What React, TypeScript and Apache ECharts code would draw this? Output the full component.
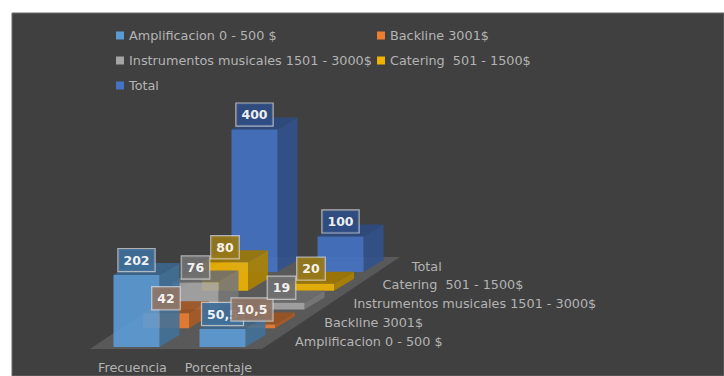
import React, { useEffect, useRef } from "react";
import * as echarts from "echarts";

const groupNames = ["Frecuencia", "Porcentaje"];
const budgetNames = [
  "Amplificacion 0 - 500 $",
  "Backline 3001$",
  "Instrumentos musicales 1501 - 3000$",
  "Catering  501 - 1500$",
  "Total",
];
const amplificacion = [202, 50.5];
const backline = [42, 10.5];
const instrumentos = [76, 19];
const catering = [80, 20];
const total = [400, 100];
const seriesValues = [amplificacion, backline, instrumentos, catering, total];
const seriesColors = ["#5b9bd5", "#ed7d31", "#a5a5a5", "#f0b400", "#4472c4"];
const labelFills = ["#3f6f9a", "#8f7566", "#707070", "#97781a", "#2f4d84"];

const UI_FONT = "'DejaVu Sans', sans-serif";
const TEXT_COLOR = "#b4b4b4";
const TEXT_SIZE = 12.8;
const BAR_WIDTH = 46;
const TOP_DX = 20;
const TOP_DY = -12;
const ROW_DX = 29.5;
const ROW_DY = -18.75;

function shade(hex: string, k: number) {
  const n = parseInt(hex.slice(1), 16);
  const c = (v: number) => Math.round(v * k);
  return `rgb(${c((n >> 16) & 255)},${c((n >> 8) & 255)},${c(n & 255)})`;
}

// One oblique box per value, shifted back along the depth axis by its row.
function boxRenderer(row: number, color: string) {
  return (_params: any, api: any) => {
    const [cx, top] = api.coord([api.value(0), api.value(1)]);
    const [, base] = api.coord([api.value(0), 0]);
    const x0 = cx - BAR_WIDTH / 2 + row * ROW_DX;
    const x1 = x0 + BAR_WIDTH;
    const yb = base + row * ROW_DY;
    const yt = top + row * ROW_DY;
    const poly = (points: number[][], fill: string) => ({
      type: "polygon",
      shape: { points },
      style: { fill, opacity: 0.9 },
    });
    return {
      type: "group",
      children: [
        poly([[x1, yb], [x1 + TOP_DX, yb + TOP_DY], [x1 + TOP_DX, yt + TOP_DY], [x1, yt]], shade(color, 0.72)),
        poly([[x0, yt], [x1, yt], [x1 + TOP_DX, yt + TOP_DY], [x0 + TOP_DX, yt + TOP_DY]], shade(color, 0.66)),
        poly([[x0, yb], [x1, yb], [x1, yt], [x0, yt]], color),
      ],
    };
  };
}

// The floor under the boxes and the depth-axis names along its right edge.
function floorRenderer(_params: any, api: any) {
  const [cx, base] = api.coord([0, 0]);
  const left = cx - 46.5;
  const right = left + 172;
  const bottom = base + 2;
  const children: any[] = [
    {
      type: "polygon",
      shape: {
        points: [
          [left, bottom],
          [right, bottom],
          [right + 138, bottom - 92],
          [left + 138, bottom - 92],
        ],
      },
      style: { fill: "#595959" },
    },
  ];
  budgetNames.forEach((name, row) => {
    children.push({
      type: "text",
      x: cx + 158.5 + row * 29.2,
      y: base - 6 + row * ROW_DY,
      style: {
        text: name,
        fill: TEXT_COLOR,
        font: `${TEXT_SIZE}px ${UI_FONT}`,
        textAlign: "left",
        textVerticalAlign: "middle",
      },
    });
  });
  return { type: "group", children };
}

// Boxed value tags sit a fixed distance above each box's front top edge.
function tagRenderer(_params: any, api: any) {
  const row = api.value(2);
  const [cx, top] = api.coord([api.value(0), api.value(1)]);
  return {
    type: "text",
    x: cx + row * ROW_DX,
    y: top + row * ROW_DY - 15,
    style: {
      text: String(api.value(1)).replace(".", ","),
      fill: "#ffffff",
      font: `bold 12.5px ${UI_FONT}`,
      textAlign: "center",
      textVerticalAlign: "middle",
      backgroundColor: labelFills[row],
      borderColor: "rgba(225,225,225,0.75)",
      borderWidth: 1.2,
      padding: [5, 5, 4, 5],
      opacity: 0.93,
    },
  };
}

export default function App() {
  const ref = useRef<HTMLDivElement>(null);

  useEffect(() => {
    const chart = echarts.init(ref.current!, undefined, { renderer: "svg" });
    const legendText = { color: TEXT_COLOR, fontFamily: UI_FONT, fontSize: TEXT_SIZE };
    const legendBase = {
      orient: "vertical" as const,
      top: 29,
      padding: 0,
      itemWidth: 8,
      itemHeight: 8,
      itemGap: 12,
      icon: "rect",
      textStyle: legendText,
      selectedMode: false,
    };
    const boxSeries = seriesValues.map((values, row) => ({
      type: "custom",
      name: budgetNames[row],
      z: 10 - row,
      clip: false,
      itemStyle: { color: seriesColors[row] },
      renderItem: boxRenderer(row, seriesColors[row]),
      encode: { x: 0, y: 1 },
      data: values.map((v, i) => [i, v]),
    }));
    const tagData = seriesValues.flatMap((values, row) => values.map((v, i) => [i, v, row]));

    chart.setOption({
      animation: false,
      backgroundColor: "#ffffff",
      graphic: [
        {
          type: "rect",
          shape: { x: 12, y: 13, width: 712, height: 363 },
          style: { fill: "#404040", stroke: "#6a6a6a", lineWidth: 1 },
          silent: true,
          z: -10,
        },
      ],
      grid: { left: 93.5, width: 172, top: 204.6, height: 142.4 },
      xAxis: {
        type: "category",
        data: groupNames,
        axisLine: { show: false },
        axisTick: { show: false },
        axisLabel: {
          color: TEXT_COLOR,
          fontFamily: UI_FONT,
          fontSize: TEXT_SIZE,
          margin: 14,
          padding: [0, 8, 0, 0],
          interval: 0,
        },
      },
      yAxis: { type: "value", min: 0, max: 400, show: false },
      legend: [
        { ...legendBase, left: 116, data: [budgetNames[0], budgetNames[2], budgetNames[4]] },
        { ...legendBase, left: 377, data: [budgetNames[1], budgetNames[3]] },
      ],
      series: [
        {
          type: "custom",
          name: "floor",
          z: 1,
          clip: false,
          renderItem: floorRenderer,
          encode: { x: 0, y: 1 },
          data: [[0, 0]],
        },
        ...boxSeries,
        {
          type: "custom",
          name: "tags",
          z: 20,
          clip: false,
          renderItem: tagRenderer,
          encode: { x: 0, y: 1 },
          data: tagData,
        },
      ],
    });
    return () => chart.dispose();
  }, []);

  return <div ref={ref} style={{ position: "fixed", left: 0, top: 0, width: 724, height: 376 }} />;
}
